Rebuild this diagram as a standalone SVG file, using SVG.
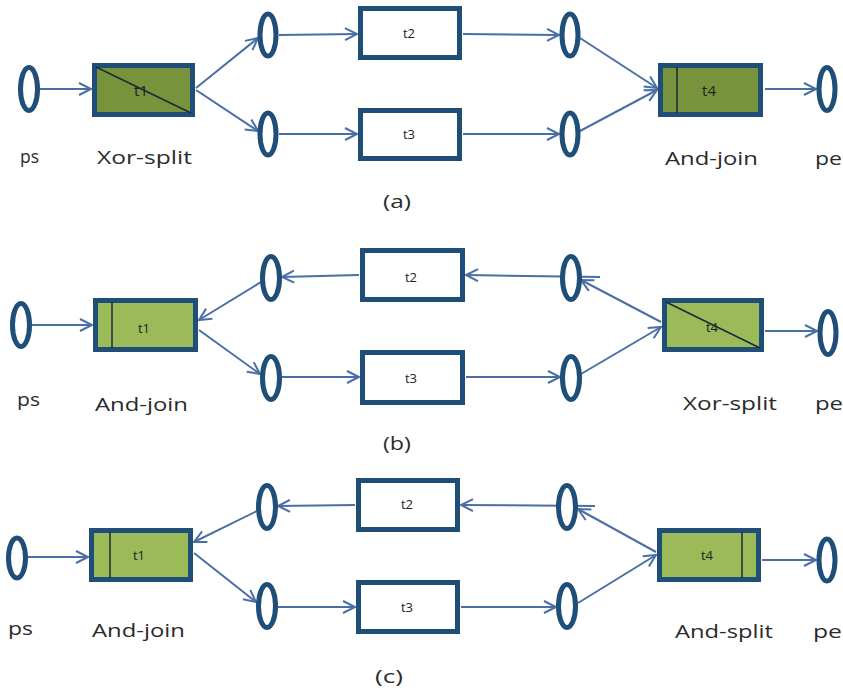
<svg xmlns="http://www.w3.org/2000/svg" width="843" height="691" viewBox="0 0 843 691">
<defs>
<style>
.place{fill:#ffffff;stroke:#1F4E79;stroke-width:5}
.trans{fill:#ffffff;stroke:#1F4E79;stroke-width:5}
.da{fill:#77933C}
.lg{fill:#9BBB59}
.bar{stroke:#1a2a3a;stroke-width:1.5;fill:none}
.conn line{stroke:#4A6FA5;stroke-width:2;marker-end:url(#arr)}
.lbl{font-family:"Open Sans","Liberation Sans",sans-serif;font-size:19px;fill:#2b2b2b}
.tl{font-family:"Open Sans","Liberation Sans",sans-serif;font-size:13px;fill:#222;text-anchor:middle}
.big{font-size:15px}
</style>
<marker id="arr" markerUnits="userSpaceOnUse" markerWidth="16" markerHeight="16" refX="13" refY="7" orient="auto">
<path d="M1,1 L13,7 L1,13" fill="none" stroke="#4A6FA5" stroke-width="2"/>
</marker>
</defs>
<rect width="843" height="691" fill="#ffffff"/>

<!-- connectors -->
<g id="connectors" class="conn">
<!-- (a) -->
<line x1="39" y1="89" x2="91" y2="89"/>
<line x1="196" y1="88" x2="258" y2="38"/>
<line x1="196" y1="90" x2="258" y2="131"/>
<line x1="279" y1="35" x2="357" y2="34"/>
<line x1="279" y1="134" x2="357" y2="134"/>
<line x1="463" y1="34" x2="559" y2="35"/>
<line x1="463" y1="134" x2="559" y2="134"/>
<line x1="580" y1="38" x2="657" y2="88"/>
<line x1="580" y1="131" x2="657" y2="90"/>
<line x1="765" y1="89" x2="816" y2="89"/>
<!-- (b) -->
<line x1="31" y1="325" x2="92" y2="325"/>
<line x1="261" y1="282" x2="199" y2="320"/>
<line x1="199" y1="330" x2="260" y2="374"/>
<line x1="359" y1="275" x2="282" y2="277"/>
<line x1="600" y1="277" x2="466" y2="275"/>
<line x1="282" y1="377" x2="359" y2="377"/>
<line x1="466" y1="377" x2="560" y2="377"/>
<line x1="581" y1="374" x2="661" y2="327"/>
<line x1="661" y1="322" x2="581" y2="280"/>
<line x1="765" y1="331" x2="817" y2="331"/>
<!-- (c) -->
<line x1="27" y1="557" x2="88" y2="557"/>
<line x1="257" y1="511" x2="194" y2="542"/>
<line x1="194" y1="553" x2="256" y2="602"/>
<line x1="355" y1="505" x2="278" y2="506"/>
<line x1="595" y1="506" x2="461" y2="505"/>
<line x1="278" y1="607" x2="355" y2="607"/>
<line x1="461" y1="607" x2="556" y2="607"/>
<line x1="578" y1="603" x2="656" y2="555"/>
<line x1="656" y1="552" x2="578" y2="509"/>
<line x1="762" y1="560" x2="816" y2="560"/>
</g>

<!-- panel (a) -->
<g id="a-ps"><ellipse class="place" cx="29" cy="89" rx="8.5" ry="21.5"/></g>
<g id="a-t1"><rect class="trans da" x="94.5" y="65.5" width="98" height="49"/><line class="bar" x1="96" y1="67" x2="191" y2="113"/><text class="tl big" x="141" y="96">t1</text></g>
<g id="a-p1"><ellipse class="place" cx="268" cy="35" rx="8" ry="21"/></g>
<g id="a-p2"><ellipse class="place" cx="268" cy="134" rx="8" ry="21"/></g>
<g id="a-t2"><rect class="trans" x="360.5" y="8.5" width="99" height="49"/><text class="tl" x="409" y="38">t2</text></g>
<g id="a-t3"><rect class="trans" x="360.5" y="110.5" width="99" height="48"/><text class="tl" x="409" y="139">t3</text></g>
<g id="a-p3"><ellipse class="place" cx="570" cy="35" rx="8" ry="21"/></g>
<g id="a-p4"><ellipse class="place" cx="570" cy="134" rx="8" ry="21"/></g>
<g id="a-t4"><rect class="trans da" x="660.5" y="65.5" width="100" height="49"/><line class="bar" x1="677" y1="67" x2="677" y2="113"/><text class="tl big" x="709" y="96">t4</text></g>
<g id="a-pe"><ellipse class="place" cx="827" cy="89" rx="8" ry="21.5"/></g>
<text class="lbl" x="20" y="163" textLength="19" lengthAdjust="spacingAndGlyphs">ps</text>
<text class="lbl" x="97" y="164" textLength="95" lengthAdjust="spacingAndGlyphs">Xor-split</text>
<text class="lbl" x="665" y="165" textLength="93" lengthAdjust="spacingAndGlyphs">And-join</text>
<text class="lbl" x="815" y="165" textLength="27" lengthAdjust="spacingAndGlyphs">pe</text>
<text class="lbl" x="383" y="208" textLength="28" lengthAdjust="spacingAndGlyphs">(a)</text>

<!-- panel (b) -->
<g id="b-ps"><ellipse class="place" cx="21" cy="325" rx="8.5" ry="21.5"/></g>
<g id="b-t1"><rect class="trans lg" x="95.5" y="300.5" width="100" height="49"/><line class="bar" x1="112" y1="302" x2="112" y2="348"/><text class="tl" x="144" y="333">t1</text></g>
<g id="b-p1"><ellipse class="place" cx="271" cy="278" rx="8.5" ry="21.5"/></g>
<g id="b-p2"><ellipse class="place" cx="271" cy="378" rx="8.5" ry="21.5"/></g>
<g id="b-t2"><rect class="trans" x="362.5" y="250.5" width="100" height="49"/><text class="tl" x="411" y="282">t2</text></g>
<g id="b-t3"><rect class="trans" x="362.5" y="352.5" width="100" height="50"/><text class="tl" x="411" y="383">t3</text></g>
<g id="b-p3"><ellipse class="place" cx="571" cy="278" rx="8.5" ry="21.5"/></g>
<g id="b-p4"><ellipse class="place" cx="571" cy="378" rx="8.5" ry="21.5"/></g>
<g id="b-t4"><rect class="trans lg" x="664.5" y="300.5" width="97" height="49"/><line class="bar" x1="666" y1="302" x2="760" y2="348"/><text class="tl" x="712" y="332">t4</text></g>
<g id="b-pe"><ellipse class="place" cx="828" cy="333" rx="8" ry="21.5"/></g>
<text class="lbl" x="17" y="406" textLength="23" lengthAdjust="spacingAndGlyphs">ps</text>
<text class="lbl" x="95" y="411" textLength="93" lengthAdjust="spacingAndGlyphs">And-join</text>
<text class="lbl" x="683" y="410" textLength="94" lengthAdjust="spacingAndGlyphs">Xor-split</text>
<text class="lbl" x="815" y="410" textLength="28" lengthAdjust="spacingAndGlyphs">pe</text>
<text class="lbl" x="383" y="450" textLength="28" lengthAdjust="spacingAndGlyphs">(b)</text>

<!-- panel (c) -->
<g id="c-ps"><ellipse class="place" cx="17" cy="558" rx="8.5" ry="20"/></g>
<g id="c-t1"><rect class="trans lg" x="91.5" y="530.5" width="99" height="49"/><line class="bar" x1="110" y1="532" x2="110" y2="578"/><text class="tl" x="139" y="560">t1</text></g>
<g id="c-p1"><ellipse class="place" cx="267" cy="507" rx="8.5" ry="21.5"/></g>
<g id="c-p2"><ellipse class="place" cx="267" cy="606" rx="8.5" ry="21.5"/></g>
<g id="c-t2"><rect class="trans" x="358.5" y="480.5" width="99" height="49"/><text class="tl" x="407" y="509">t2</text></g>
<g id="c-t3"><rect class="trans" x="358.5" y="582.5" width="99" height="49"/><text class="tl" x="407" y="612">t3</text></g>
<g id="c-p3"><ellipse class="place" cx="567" cy="507" rx="8.5" ry="21.5"/></g>
<g id="c-p4"><ellipse class="place" cx="567" cy="606" rx="8.5" ry="21.5"/></g>
<g id="c-t4"><rect class="trans lg" x="659.5" y="530.5" width="99" height="49"/><line class="bar" x1="742" y1="532" x2="742" y2="578"/><text class="tl" x="707" y="560">t4</text></g>
<g id="c-pe"><ellipse class="place" cx="827" cy="560" rx="8" ry="21"/></g>
<text class="lbl" x="8" y="635" textLength="25" lengthAdjust="spacingAndGlyphs">ps</text>
<text class="lbl" x="92" y="637" textLength="93" lengthAdjust="spacingAndGlyphs">And-join</text>
<text class="lbl" x="675" y="638" textLength="98" lengthAdjust="spacingAndGlyphs">And-split</text>
<text class="lbl" x="813" y="638" textLength="29" lengthAdjust="spacingAndGlyphs">pe</text>
<text class="lbl" x="375" y="683" textLength="28" lengthAdjust="spacingAndGlyphs">(c)</text>
</svg>
